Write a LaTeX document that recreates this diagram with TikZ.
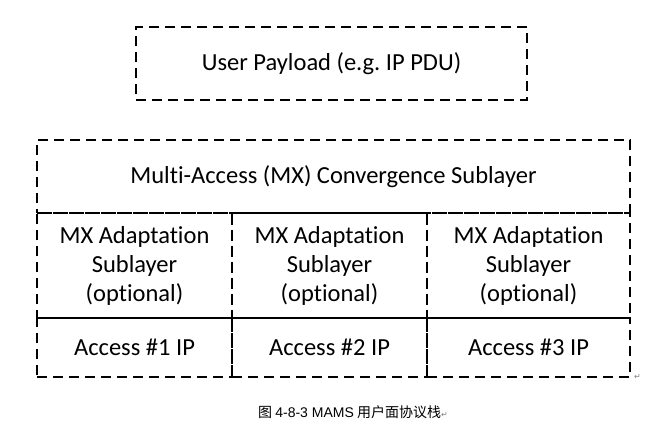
\documentclass[tikz,border=0pt]{standalone}
\usepackage{fontspec}
\setmainfont[Ligatures=NoCommon]{Carlito}
\newfontfamily\cjk{Noto Sans CJK SC}
\newfontfamily\lat{Liberation Sans}
\newfontfamily\symb{DejaVu Sans}
\newcommand{\parmark}{{\symb\color{gray}\fontsize{8}{8}\selectfont ↵}}

\begin{document}
\begin{tikzpicture}[x=1pt, y=-1pt,
    layer/.style={draw, dash pattern=on 10pt off 6pt, line width=1.3pt,
      inner sep=0pt, align=center, font=\fontsize{24.5}{29}\selectfont}]
  \useasboundingbox (0,0) rectangle (667,435);
  \node[layer, minimum width=391pt, minimum height=73pt] (payload) at
  (331.5,63.5) {User Payload (e.g.\ IP PDU)};
  \node[layer, minimum width=593pt, minimum height=73pt] (conv) at
  (333.5,176.5) {Multi-Access (MX) Convergence Sublayer};
  \node[layer, minimum width=195pt, minimum height=105pt] (adapt1) at
  (134.5,265.5) {MX Adaptation\\Sublayer\\(optional)};
  \node[layer, minimum width=195pt, minimum height=105pt] (adapt2) at
  (329.5,265.5) {MX Adaptation\\Sublayer\\(optional)};
  \node[layer, minimum width=203pt, minimum height=105pt] (adapt3) at
  (528.5,265.5) {MX Adaptation\\Sublayer\\(optional)};
  \node[layer, minimum width=195pt, minimum height=59pt] (access1) at
  (134.5,347.5) {Access \#1 IP};
  \node[layer, minimum width=195pt, minimum height=59pt] (access2) at
  (329.5,347.5) {Access \#2 IP};
  \node[layer, minimum width=203pt, minimum height=59pt] (access3) at
  (528.5,347.5) {Access \#3 IP};
  \node[anchor=south west, inner sep=0pt] (mark) at (634,380) {\parmark};
  \node[anchor=west, inner sep=0pt, font=\cjk\fontsize{14}{16}\selectfont]
  (caption) at (258,412) {图 {\lat 4-8-3 MAMS} 用户面协议栈\parmark};
\end{tikzpicture}
\end{document}
